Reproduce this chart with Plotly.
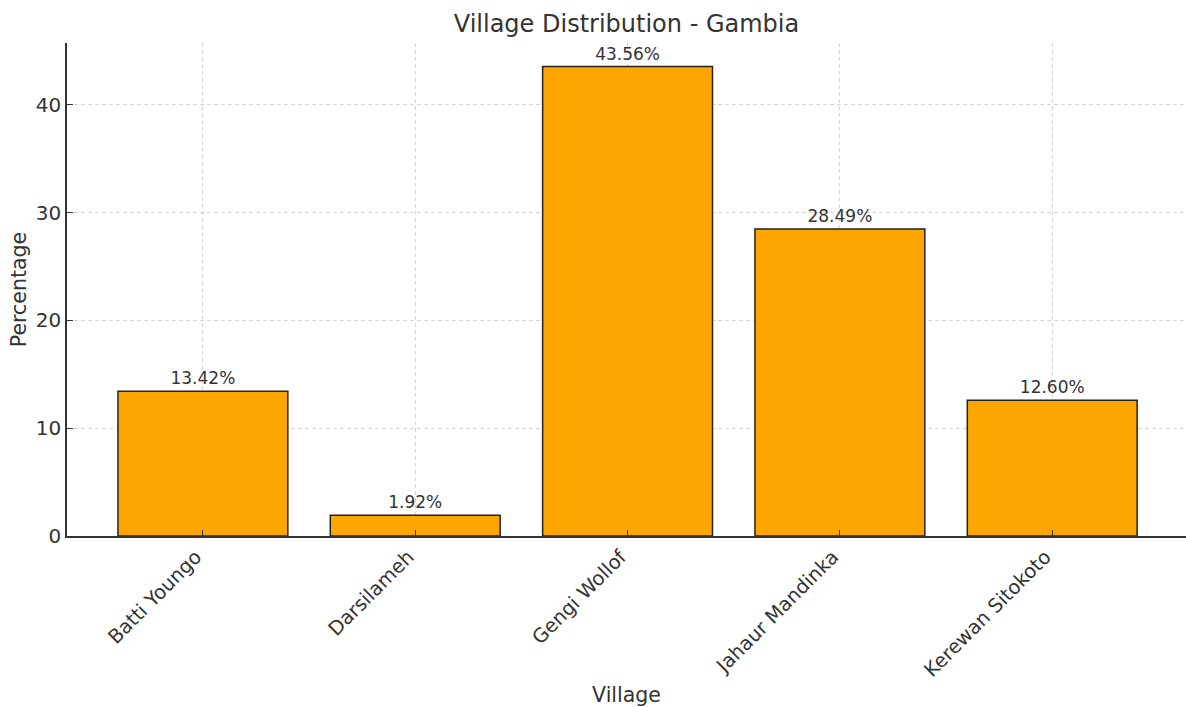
import plotly.graph_objects as go

villages = ["Batti Youngo", "Darsilameh", "Gengi Wollof", "Jahaur Mandinka", "Kerewan Sitokoto"]
percentages = [13.42, 1.92, 43.56, 28.49, 12.60]
y_ticks = [0, 10, 20, 30, 40]

FONT = "DejaVu Sans"
INK = "#333333"
GRID = "#d4d4d4"

fig = go.Figure(
    go.Bar(
        x=list(range(len(villages))),
        y=percentages,
        width=0.8,
        marker=dict(color="#FFA500", line=dict(color="#222222", width=1.5)),
        text=[f"{v:.2f}%" for v in percentages],
        textposition="outside",
        textfont=dict(family=FONT, size=17, color=INK),
        cliponaxis=False,
        hoverinfo="skip",
    )
)

fig.update_layout(
    width=1186,
    height=707,
    margin=dict(l=67, r=0, t=43, b=171),
    paper_bgcolor="white",
    plot_bgcolor="white",
    font=dict(family=FONT, color=INK),
    showlegend=False,
    bargap=0.2,
    title=dict(
        text="Village Distribution - Gambia",
        x=0.5,
        xref="paper",
        y=1 - 24 / 707,
        yanchor="middle",
        font=dict(family=FONT, size=24, color=INK),
    ),
)

fig.update_xaxes(
    range=[-0.64, 4.63],
    automargin=False,
    tickmode="array",
    tickvals=list(range(len(villages))),
    ticktext=villages,
    tickangle=-45,
    ticklabelshift=-7,
    tickfont=dict(family=FONT, size=19.5, color=INK),
    ticks="inside",
    ticklen=6,
    tickcolor=INK,
    showline=True,
    linecolor=INK,
    linewidth=1.5,
    showgrid=True,
    gridcolor=GRID,
    griddash="4px,3px",
    gridwidth=1,
    zeroline=False,
    title=dict(text="Village", font=dict(family=FONT, size=20.5, color=INK), standoff=15),
)

fig.update_yaxes(
    range=[0, 45.74],
    automargin=False,
    tickmode="array",
    tickvals=y_ticks,
    tickfont=dict(family=FONT, size=20, color=INK),
    ticks="inside",
    ticklen=6,
    tickcolor=INK,
    showline=True,
    linecolor=INK,
    linewidth=1.5,
    showgrid=True,
    gridcolor=GRID,
    griddash="4px,3px",
    gridwidth=1,
    zeroline=False,
    title=dict(text="Percentage", font=dict(family=FONT, size=20.5, color=INK), standoff=4),
)

fig.write_html("out.html")
